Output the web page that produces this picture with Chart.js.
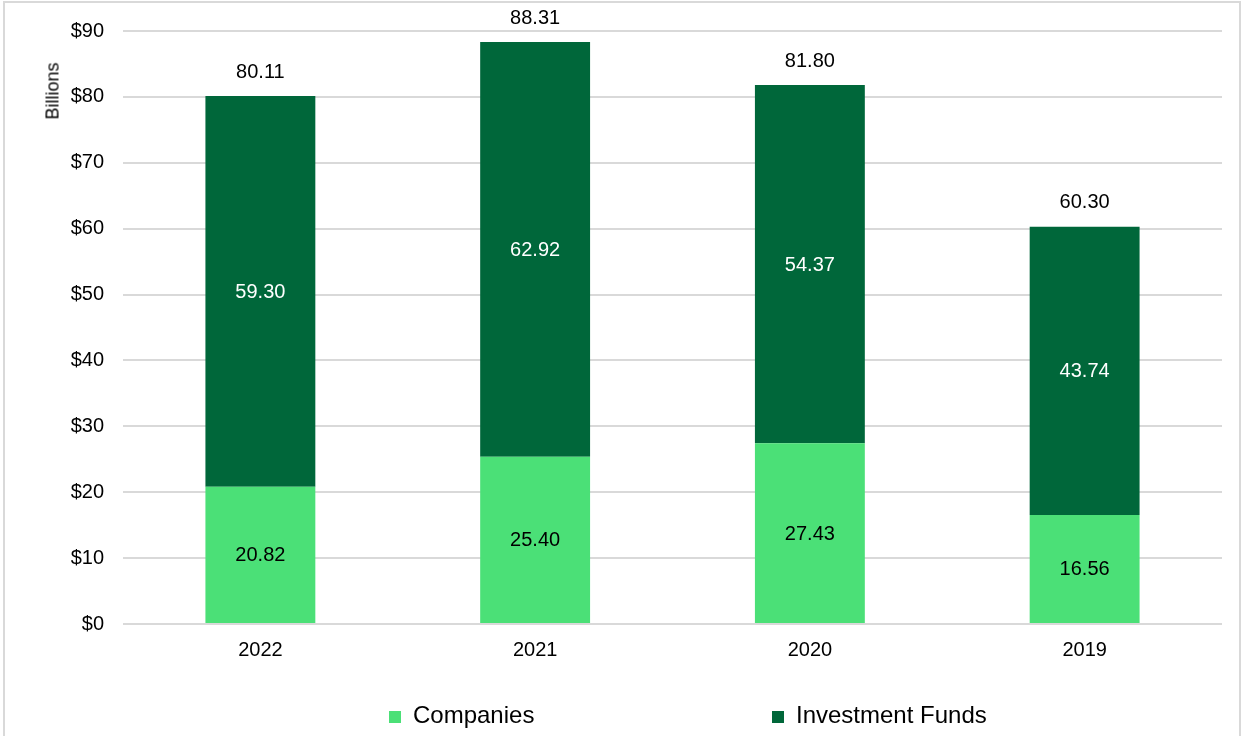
<!DOCTYPE html>
<html>
<head>
<meta charset="utf-8">
<script src="https://cdn.jsdelivr.net/npm/chart.js@4"></script>
<style>
  html, body { margin: 0; padding: 0; background: #fff; }
  body { width: 1252px; height: 736px; position: relative; overflow: hidden; font-family: "Liberation Sans", Arial, sans-serif; }
  #frame { position: absolute; left: 3px; top: 1px; width: 1238px; height: 740px; border: 2px solid #d9d9d9; box-sizing: border-box; }
  #salesChart { position: absolute; left: 0; top: 0; }
  #yTitle { position: absolute; left: 53px; top: 91px; transform: translate(-50%, -50%) rotate(-90deg); font-size: 18px; color: #000; white-space: nowrap; }
  .legendItem { position: absolute; top: 702px; height: 26px; line-height: 26px; font-size: 24px; color: #000; white-space: nowrap; }
  .legendItem span { display: inline-block; width: 12px; height: 12px; margin-right: 12px; vertical-align: 0px; }
</style>
</head>
<body>
<div id="frame"></div>
<canvas id="salesChart" width="1252" height="736"></canvas>
<div id="yTitle">Billions</div>
<div id="legend"></div>
<script>
// Chart data
const years = ['2022', '2021', '2020', '2019'];
const companies = [20.82, 25.40, 27.43, 16.56];
const investmentFunds = [59.30, 62.92, 54.37, 43.74];
const totals = [80.11, 88.31, 81.80, 60.30];
const yTicks = [0, 10, 20, 30, 40, 50, 60, 70, 80, 90];

const lightGreen = '#4be077';
const darkGreen = '#00673a';
const labelFont = '20px "Liberation Sans", Arial, sans-serif';

// Legend (HTML, spaced like the original)
const legendItems = [
  { text: 'Companies', color: lightGreen, left: 389 },
  { text: 'Investment Funds', color: darkGreen, left: 772 }
];
const legendBox = document.getElementById('legend');
legendItems.forEach(item => {
  const el = document.createElement('div');
  el.className = 'legendItem';
  el.style.left = item.left + 'px';
  const box = document.createElement('span');
  box.style.background = item.color;
  el.appendChild(box);
  el.appendChild(document.createTextNode(item.text));
  legendBox.appendChild(el);
});

// Value labels inside bars and totals on top
const barLabels = {
  id: 'barLabels',
  afterDatasetsDraw(chart) {
    const ctx = chart.ctx;
    ctx.save();
    ctx.font = labelFont;
    ctx.textAlign = 'center';
    ctx.textBaseline = 'middle';
    chart.data.datasets.forEach((ds, i) => {
      const meta = chart.getDatasetMeta(i);
      meta.data.forEach((bar, j) => {
        ctx.fillStyle = i === 0 ? '#000' : '#fff';
        ctx.fillText(ds.data[j].toFixed(2), bar.x, (bar.y + bar.base) / 2 + 1);
      });
    });
    const top = chart.getDatasetMeta(chart.data.datasets.length - 1);
    ctx.fillStyle = '#000';
    top.data.forEach((bar, j) => {
      ctx.fillText(totals[j].toFixed(2), bar.x, bar.y - 24);
    });
    ctx.restore();
  }
};

const ctx = document.getElementById('salesChart').getContext('2d');
const salesChart = new Chart(ctx, {
  type: 'bar',
  data: {
    labels: years,
    datasets: [
      { label: 'Companies', data: companies, backgroundColor: lightGreen },
      { label: 'Investment Funds', data: investmentFunds, backgroundColor: darkGreen }
    ]
  },
  options: {
    responsive: false,
    animation: false,
    devicePixelRatio: 1,
    layout: { padding: { left: 0, right: 30, top: 30, bottom: 62 } },
    datasets: { bar: { categoryPercentage: 1, barPercentage: 0.4 } },
    plugins: {
      legend: { display: false },
      tooltip: { enabled: false }
    },
    scales: {
      x: {
        stacked: true,
        grid: { display: false, drawTicks: false },
        border: { display: false },
        ticks: { color: '#000', padding: 14, font: { family: '"Liberation Sans", Arial, sans-serif', size: 20 } },
        afterFit: s => { s.height = 50; }
      },
      y: {
        stacked: true,
        min: 0,
        max: 90,
        afterBuildTicks: s => { s.ticks = yTicks.map(v => ({ value: v })); },
        grid: { color: '#d9d9d9', lineWidth: 2, drawTicks: false },
        border: { display: false },
        ticks: {
          color: '#000',
          padding: 19,
          font: { family: '"Liberation Sans", Arial, sans-serif', size: 20 },
          callback: v => '$' + v
        },
        afterFit: s => { s.width = 123; }
      }
    }
  },
  plugins: [barLabels]
});
</script>
</body>
</html>
